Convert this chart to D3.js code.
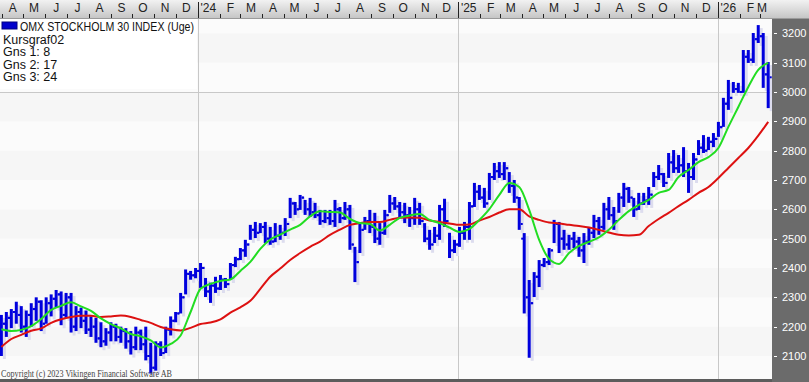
<!DOCTYPE html>
<html>
<head>
<meta charset="utf-8">
<script src="https://cdn.jsdelivr.net/npm/d3@7"></script>
<style>
  body { margin: 0; background: #fff; }
  svg { display: block; }
</style>
</head>
<body>
<div id="chart"></div>
<script>
// weekly bars, one per week, dated on the Friday
const firstWeek = new Date(2023, 2, 31);

const highs = [
  2240,2250,2260,2285,2270,2255,2280,2300,2290,2300,2310,2325,2320,2315,2315,2270,2265,2255,2235,2230,
  2215,2195,2215,2210,2200,2195,2185,2200,2190,2200,2145,2150,2150,2200,2235,2250,2315,2395,2390,2400,
  2417,2366,2350,2370,2376,2366,2417,2438,2468,2496,2547,2557,2553,2557,2540,2553,2547,2570,2639,2625,
  2649,2632,2639,2622,2598,2598,2598,2632,2608,2625,2615,2472,2553,2574,2598,2588,2553,2598,2649,2642,
  2625,2622,2608,2639,2622,2553,2530,2540,2615,2636,2520,2496,2540,2557,2625,2690,2683,2673,2724,2758,
  2761,2761,2727,2700,2642,2519,2359,2386,2427,2434,2468,2564,2557,2530,2513,2523,2506,2519,2540,2581,
  2574,2622,2642,2608,2656,2690,2676,2639,2656,2656,2676,2727,2751,2724,2792,2802,2785,2812,2758,2792,
  2836,2853,2847,2860,2898,2980,3041,3034,3031,3143,3143,3201,3228,3201,3102
];
const lows = [
  2100,2165,2195,2210,2180,2165,2200,2220,2185,2210,2235,2265,2205,2230,2180,2185,2195,2175,2165,2145,
  2130,2135,2150,2150,2145,2125,2105,2120,2120,2085,2040,2050,2100,2110,2170,2215,2245,2310,2360,2365,
  2332,2301,2281,2315,2325,2332,2359,2403,2427,2438,2496,2502,2519,2485,2479,2488,2496,2509,2570,2581,
  2598,2581,2574,2570,2547,2553,2547,2540,2553,2564,2462,2352,2451,2530,2519,2485,2479,2513,2588,2598,
  2570,2553,2540,2547,2547,2488,2462,2485,2496,2540,2434,2451,2472,2496,2496,2608,2632,2605,2632,2700,
  2707,2700,2656,2622,2530,2245,2094,2301,2335,2403,2410,2485,2451,2462,2462,2468,2438,2417,2479,2502,
  2513,2530,2564,2530,2588,2608,2622,2574,2598,2615,2615,2676,2700,2676,2707,2724,2724,2710,2656,2700,
  2785,2792,2802,2812,2847,2881,2939,2997,2997,2997,3099,3099,3167,3014,2945
];
const closes = [
  2210,2230,2250,2240,2200,2240,2260,2285,2210,2280,2295,2310,2240,2300,2200,2250,2220,2190,2200,2160,
  2150,2180,2200,2165,2185,2150,2130,2180,2140,2100,2060,2140,2110,2190,2220,2245,2300,2380,2375,2390,
  2400,2320,2340,2330,2360,2345,2410,2430,2460,2480,2530,2520,2540,2500,2490,2510,2520,2550,2620,2600,
  2640,2600,2590,2580,2560,2570,2560,2600,2570,2600,2480,2420,2530,2560,2540,2500,2520,2580,2620,2610,
  2590,2580,2570,2600,2560,2500,2480,2510,2600,2560,2460,2480,2520,2540,2610,2660,2640,2620,2710,2730,
  2720,2740,2680,2640,2550,2300,2280,2370,2410,2420,2460,2550,2500,2480,2500,2490,2460,2490,2520,2560,
  2540,2600,2580,2560,2640,2670,2640,2600,2620,2630,2650,2710,2720,2690,2760,2740,2750,2730,2710,2770,
  2810,2800,2830,2840,2880,2960,2980,3010,3000,3120,3110,3180,3190,3060,3050
];
const opens = [
  2180,2210,2230,2250,2240,2200,2240,2260,2285,2210,2280,2295,2310,2240,2300,2200,2250,2220,2190,2200,
  2160,2150,2180,2200,2165,2185,2150,2130,2180,2140,2100,2060,2140,2110,2190,2220,2245,2300,2380,2375,
  2390,2400,2320,2340,2330,2360,2345,2410,2430,2460,2480,2530,2520,2540,2500,2490,2510,2520,2550,2620,
  2600,2640,2600,2590,2580,2560,2570,2560,2600,2570,2600,2480,2420,2530,2560,2540,2500,2520,2580,2620,
  2610,2590,2580,2570,2600,2560,2500,2480,2510,2600,2560,2460,2480,2520,2540,2610,2660,2640,2620,2710,
  2730,2720,2740,2680,2640,2500,2300,2280,2370,2410,2420,2460,2550,2500,2480,2500,2490,2460,2490,2520,
  2560,2540,2600,2580,2560,2640,2670,2640,2600,2620,2630,2650,2710,2720,2690,2760,2740,2750,2730,2710,
  2770,2810,2800,2830,2840,2880,2960,2980,3010,3000,3120,3110,3180,3190,3060
];

// moving averages, every second week
const avg8 = [
  2191,2185,2189,2202,2226,2257,2271,2283,2269,2254,2228,2209,2194,2175,2167,2153,2129,2141,2170,2250,
  2329,2346,2356,2361,2390,2421,2465,2497,2514,2531,2547,2576,2593,2591,2589,2567,2553,2550,2528,2547,
  2571,2579,2584,2564,2553,2538,2523,2533,2564,2601,2649,2690,2676,2598,2496,2431,2414,2451,2475,2489,
  2504,2530,2564,2594,2615,2632,2656,2666,2710,2734,2761,2778,2809,2881,2949,3017,3075,3099
];
const avg24 = [
  2131,2158,2172,2186,2194,2213,2225,2233,2237,2237,2233,2235,2238,2233,2223,2213,2199,2191,2187,2196,
  2209,2214,2225,2248,2266,2288,2329,2370,2398,2427,2451,2472,2490,2513,2531,2547,2553,2557,2557,2564,
  2571,2572,2571,2562,2557,2552,2547,2548,2562,2574,2589,2600,2600,2576,2564,2555,2552,2547,2543,2538,
  2530,2521,2513,2511,2513,2543,2567,2588,2611,2632,2656,2676,2707,2741,2775,2809,2851,2898
];

const priceTicks = [2100,2200,2300,2400,2500,2600,2700,2800,2900,3000,3100,3200];
const monthLetters = ["J","F","M","A","M","J","J","A","S","O","N","D"];
const legendLines = ["Kursgraf02", "Gns 1: 8", "Gns 2: 17", "Gns 3: 24"];

const W = 809, H = 382;
const plotL = 0, plotR = 772, plotT = 19, plotB = 379;

const svg = d3.select("#chart").append("svg")
    .attr("width", W)
    .attr("height", H)
    .style("font-family", "'Liberation Sans', Arial, sans-serif");

const x = d3.scaleTime()
    .domain([new Date(2024, 0, 1), new Date(2026, 0, 1)])
    .range([197.7, 717.7]);
const y = d3.scaleLinear()
    .domain([2100, 3200])
    .range([356, 33.3]);

const weeks = closes.map((c, i) => d3.timeDay.offset(firstWeek, 7 * i));

svg.append("defs").append("clipPath").attr("id", "plotclip")
  .append("rect").attr("x", plotL).attr("y", plotT).attr("width", plotR - plotL).attr("height", plotB - plotT);

// plot background with faint bands
svg.append("rect").attr("x", plotL).attr("y", plotT).attr("width", plotR - plotL).attr("height", plotB - plotT)
    .attr("fill", "#fafafa");
const bands = svg.append("g").attr("clip-path", "url(#plotclip)");
d3.range(2000, 3300, 100).forEach(function(p, k) {
  bands.append("rect")
      .attr("x", plotL).attr("width", plotR - plotL)
      .attr("y", y(p + 100)).attr("height", y(p) - y(p + 100))
      .attr("fill", k % 2 ? "#f6f6f6" : "#fbfbfb");
});

// year separators and 3000 line
const yearStarts = [new Date(2024, 0, 1), new Date(2025, 0, 1), new Date(2026, 0, 1)];
bands.selectAll(".yl").data(yearStarts).enter().append("line")
    .attr("x1", d => Math.round(x(d)) + 0.5).attr("x2", d => Math.round(x(d)) + 0.5)
    .attr("y1", plotT).attr("y2", plotB)
    .attr("stroke", "#c8c8c8");
bands.append("line")
    .attr("x1", plotL).attr("x2", plotR)
    .attr("y1", Math.round(y(3000)) + 0.5).attr("y2", Math.round(y(3000)) + 0.5)
    .attr("stroke", "#c8c8c8");

// legend panel
bands.append("rect").attr("x", 0).attr("y", plotT).attr("width", 197).attr("height", 70).attr("fill", "#fff");
svg.append("rect").attr("x", 2).attr("y", 22).attr("width", 15).attr("height", 7)
    .attr("fill", "#0000cc").attr("stroke", "#000080").attr("stroke-width", 1);
svg.append("text").attr("x", 20).attr("y", 31)
    .attr("font-size", 12.5).attr("textLength", 174).attr("lengthAdjust", "spacingAndGlyphs")
    .attr("fill", "#111").text("OMX STOCKHOLM 30 INDEX (Uge)");
svg.selectAll(".leg").data(legendLines).enter().append("text")
    .attr("x", 3).attr("y", (d, i) => 43.5 + i * 12.5)
    .attr("font-size", 12.5).attr("fill", "#111")
    .text(d => d);

// bars
const plot = svg.append("g").attr("clip-path", "url(#plotclip)");
const bars = weeks.map((d, i) => ({date: d, o: opens[i], h: highs[i], l: lows[i], c: closes[i]}));

const shadow = plot.append("g").attr("fill", "#dcdcee");
shadow.selectAll("rect").data(bars).enter().append("rect")
    .attr("x", d => x(d.date) + 1.5).attr("y", d => y(d.h) + 3)
    .attr("width", 3).attr("height", d => y(d.l) - y(d.h));

const ohlc = plot.append("g").attr("fill", "#0000dd");
ohlc.selectAll(".hl").data(bars).enter().append("rect")
    .attr("x", d => x(d.date) - 1.5).attr("y", d => y(d.h))
    .attr("width", 3).attr("height", d => Math.max(2, y(d.l) - y(d.h)));
ohlc.selectAll(".op").data(bars).enter().append("rect")
    .attr("x", d => x(d.date) - 3).attr("y", d => y(d.o) - 1)
    .attr("width", 2).attr("height", 2);
ohlc.selectAll(".cl").data(bars).enter().append("rect")
    .attr("x", d => x(d.date) + 1.5).attr("y", d => y(d.c) - 1)
    .attr("width", 2).attr("height", 2);

// moving averages
const maLine = d3.line()
    .x((v, k) => x(weeks[2 * k]))
    .y(v => y(v))
    .curve(d3.curveMonotoneX);
plot.append("path").datum(avg24).attr("d", maLine)
    .attr("fill", "none").attr("stroke", "#dd1111").attr("stroke-width", 2);
plot.append("path").datum(avg8).attr("d", maLine)
    .attr("fill", "none").attr("stroke", "#22dd22").attr("stroke-width", 2);

// copyright
svg.append("text").attr("x", 1).attr("y", 377)
    .attr("font-family", "'Liberation Serif', 'Times New Roman', serif")
    .attr("font-size", 9.5).attr("textLength", 171).attr("lengthAdjust", "spacingAndGlyphs")
    .attr("fill", "#444").text("Copyright (c) 2023 Vikingen Financial Software AB");

// bottom border
svg.append("rect").attr("x", 0).attr("y", plotB).attr("width", W).attr("height", H - plotB).attr("fill", "#5c5c5c");

// right price axis
svg.append("rect").attr("x", plotR).attr("y", plotT).attr("width", W - plotR).attr("height", H - plotT)
    .attr("fill", "#6b6b6b");
const axisR = svg.append("g");
axisR.selectAll("line").data(priceTicks).enter().append("line")
    .attr("x1", plotR + 2).attr("x2", plotR + 5)
    .attr("y1", d => Math.round(y(d)) + 0.5).attr("y2", d => Math.round(y(d)) + 0.5)
    .attr("stroke", "#fff");
axisR.selectAll("text").data(priceTicks).enter().append("text")
    .attr("x", plotR + 10).attr("y", d => y(d) + 4)
    .attr("font-size", 11).attr("fill", "#fff")
    .text(d => d);

// top month strip
const grad = svg.select("defs").append("linearGradient").attr("id", "strip")
    .attr("x1", 0).attr("y1", 0).attr("x2", 0).attr("y2", 1);
grad.append("stop").attr("offset", "0%").attr("stop-color", "#f2f2f2");
grad.append("stop").attr("offset", "100%").attr("stop-color", "#c6c6c6");
svg.append("rect").attr("x", 0).attr("y", 0).attr("width", W).attr("height", plotT - 1).attr("fill", "url(#strip)");
svg.append("line").attr("x1", 0).attr("x2", W).attr("y1", plotT - 0.5).attr("y2", plotT - 0.5).attr("stroke", "#9a9a9a");

const months = d3.timeMonth.range(new Date(2023, 3, 1), new Date(2026, 3, 1));
const strip = svg.append("g");
months.forEach(function(m) {
  const x0 = x(m);
  const mid = x(d3.timeDay.offset(m, 15));
  if (x0 > 1 && x0 < plotR) {
    if (m.getMonth() === 0) {
      strip.append("line").attr("x1", Math.round(x0) + 0.5).attr("x2", Math.round(x0) + 0.5)
          .attr("y1", 2).attr("y2", plotT - 1).attr("stroke", "#222");
    } else {
      strip.append("line").attr("x1", Math.round(x0) + 0.5).attr("x2", Math.round(x0) + 0.5)
          .attr("y1", plotT - 5).attr("y2", plotT - 1).attr("stroke", "#222");
    }
  }
  const label = m.getMonth() === 0 ? "'" + String(m.getFullYear()).slice(2) : monthLetters[m.getMonth()];
  strip.append("text")
      .attr("x", Math.max(7, Math.min(mid, 762)))
      .attr("y", 12)
      .attr("text-anchor", "middle")
      .attr("font-size", 12).attr("fill", "#222")
      .text(label);
});
</script>
</body>
</html>
